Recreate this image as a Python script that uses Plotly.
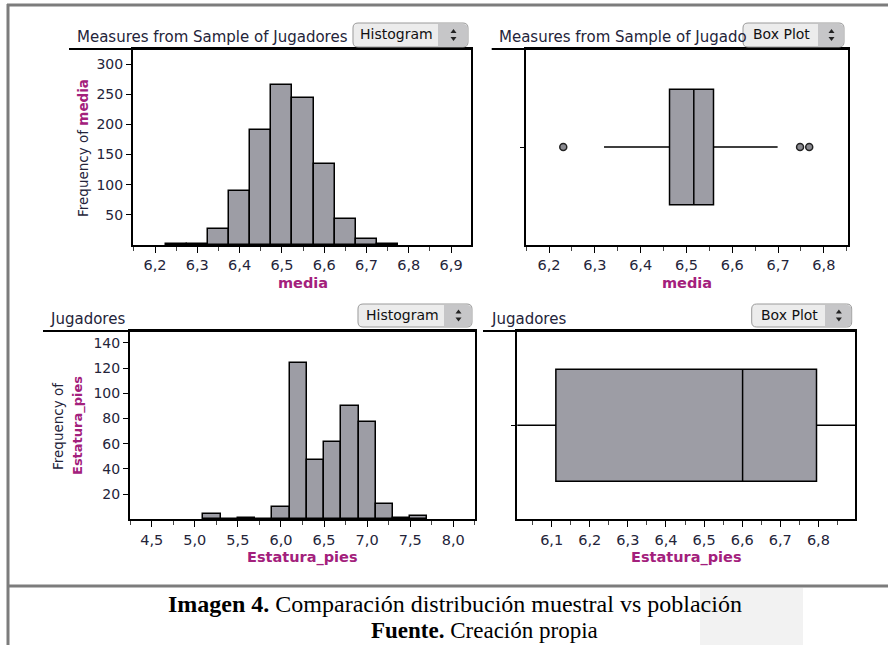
import plotly.graph_objects as go

# ---------------- data ----------------
media_edges = [6.225, 6.275, 6.325, 6.375, 6.425, 6.475, 6.525, 6.575, 6.625, 6.675, 6.725, 6.775]
media_counts = [1, 1, 27, 89, 191, 266, 244, 134, 43, 10, 2]

estatura_edges = [5.1, 5.3, 5.5, 5.7, 5.9, 6.1, 6.3, 6.5, 6.7, 6.9, 7.1, 7.3, 7.5, 7.7]
estatura_counts = [4, 0, 1, 0, 10, 124, 47, 61, 90, 77, 12, 1, 3]

media_box = dict(q1=6.463, median=6.516, q3=6.559, lowerfence=6.32, upperfence=6.699)
media_outliers = [6.231, 6.748, 6.768]

estatura_box = dict(q1=6.111, median=6.601, q3=6.795, lowerfence=5.2, upperfence=7.6)

media_xticks = [6.2, 6.3, 6.4, 6.5, 6.6, 6.7, 6.8, 6.9]
media_yticks = [50, 100, 150, 200, 250, 300]
media_box_xticks = [6.2, 6.3, 6.4, 6.5, 6.6, 6.7, 6.8]
estatura_xticks = [4.5, 5.0, 5.5, 6.0, 6.5, 7.0, 7.5, 8.0]
estatura_yticks = [20, 40, 60, 80, 100, 120, 140]
estatura_box_xticks = [6.1, 6.2, 6.3, 6.4, 6.5, 6.6, 6.7, 6.8]

# ---------------- styling ----------------
W, H = 888, 645
BAR = "#9d9da5"
TXT = "#24243a"
MAG = "#a3207c"
FONT = "DejaVu Sans, Verdana, sans-serif"
SERIF = "Liberation Serif, Times New Roman, serif"


def fx(x):
    return x / W


def fy(y):
    return 1 - y / H


def centers(edges):
    return [(a + b) / 2 for a, b in zip(edges[:-1], edges[1:])]


def widths(edges):
    return [b - a for a, b in zip(edges[:-1], edges[1:])]


fig = go.Figure()

fig.add_trace(go.Bar(x=centers(media_edges), y=media_counts, width=widths(media_edges),
                     marker=dict(color=BAR, line=dict(color="black", width=1.5)),
                     xaxis="x", yaxis="y", showlegend=False))
fig.add_trace(go.Box(y=[0], q1=[media_box["q1"]], median=[media_box["median"]], q3=[media_box["q3"]],
                     lowerfence=[media_box["lowerfence"]], upperfence=[media_box["upperfence"]],
                     orientation="h", width=1.18, whiskerwidth=0,
                     fillcolor=BAR, line=dict(color="black", width=1.5),
                     xaxis="x2", yaxis="y2", showlegend=False, hoverinfo="skip"))
fig.add_trace(go.Scatter(x=media_outliers, y=[0] * len(media_outliers), mode="markers",
                         marker=dict(size=7, color="#8a8a90", line=dict(color="#222", width=1.5)),
                         xaxis="x2", yaxis="y2", showlegend=False))
fig.add_trace(go.Bar(x=centers(estatura_edges), y=estatura_counts, width=widths(estatura_edges),
                     marker=dict(color=BAR, line=dict(color="black", width=1.5)),
                     xaxis="x3", yaxis="y3", showlegend=False))
fig.add_trace(go.Box(y=[0], q1=[estatura_box["q1"]], median=[estatura_box["median"]], q3=[estatura_box["q3"]],
                     lowerfence=[estatura_box["lowerfence"]], upperfence=[estatura_box["upperfence"]],
                     orientation="h", width=1.19, whiskerwidth=0,
                     fillcolor=BAR, line=dict(color="black", width=1.5),
                     xaxis="x4", yaxis="y4", showlegend=False, hoverinfo="skip"))

tickfont = dict(family=FONT, size=14.5, color=TXT)


def xax(domain, rng, tickvals, minor_dtick, anchor):
    return dict(domain=[fx(domain[0]), fx(domain[1])], range=rng, anchor=anchor,
                tickvals=tickvals, tickformat=".1f", ticks="outside", ticklen=6, tickwidth=1,
                tickcolor="black", tickfont=tickfont,
                minor=dict(dtick=minor_dtick, tick0=tickvals[0], ticks="outside", ticklen=4, tickcolor="#444"),
                showline=True, linecolor="black", linewidth=2, mirror=True,
                showgrid=False, zeroline=False, fixedrange=True)


def yax(domain, rng, tickvals, anchor, labels=True):
    d = dict(domain=[fy(domain[1]), fy(domain[0])], range=rng, anchor=anchor,
             tickvals=tickvals, ticks="outside", ticklen=5, tickwidth=1, tickcolor="black",
             tickfont=dict(family=FONT, size=14, color=TXT), showline=True, linecolor="black",
             linewidth=2, mirror=True, showgrid=False, zeroline=False, fixedrange=True)
    if not labels:
        d["showticklabels"] = False
        d["ticklen"] = 4
    return d


P1 = (133, 471, 49, 245)
P2 = (525.7, 847.7, 49, 245)
P3 = (130, 475, 331, 519.3)
P4 = (517.3, 855, 331, 519.3)

fig.update_layout(
    width=W, height=H, margin=dict(l=0, r=0, t=0, b=0),
    paper_bgcolor="white", plot_bgcolor="white",
    separators=", ", bargap=0,
    xaxis=xax(P1[:2], [6.148, 6.947], media_xticks, 0.05, "y"),
    yaxis=yax(P1[2:], [0, 325], media_yticks, "x"),
    xaxis2=xax(P2[:2], [6.149, 6.852], media_box_xticks, 0.05, "y2"),
    yaxis2=yax(P2[2:], [-1, 1], [0], "x2", labels=False),
    xaxis3=xax(P3[:2], [4.248, 8.252], estatura_xticks, 0.25, "y3"),
    yaxis3=yax(P3[2:], [0, 149.5], estatura_yticks, "x3"),
    xaxis4=xax(P4[:2], [6.0098, 6.896], estatura_box_xticks, 0.05, "y4"),
    yaxis4=yax(P4[2:], [-1, 1], [0], "x4", labels=False),
)

shapes = []
annotations = []


def hline(x0, x1, y, color="black", width=2):
    shapes.append(dict(type="line", xref="paper", yref="paper", x0=fx(x0), x1=fx(x1), y0=fy(y), y1=fy(y),
                       line=dict(color=color, width=width)))


def vline(x, y0, y1, color="black", width=2):
    shapes.append(dict(type="line", xref="paper", yref="paper", x0=fx(x), x1=fx(x), y0=fy(y0), y1=fy(y1),
                       line=dict(color=color, width=width)))


def text(x, y, s, size=15, color=TXT, anchor="left", angle=0, family=FONT, yanchor="middle"):
    annotations.append(dict(x=fx(x), y=fy(y), xref="paper", yref="paper", text=s, showarrow=False,
                            xanchor=anchor, yanchor=yanchor, textangle=angle,
                            font=dict(family=family, size=size, color=color)))


def button(x0, x1, y0, y1, xs, label):
    r = 5

    def P(x, y):
        return f"{fx(x):.5f},{fy(y):.5f}"
    path = (f"M {P(x0 + r, y0)} L {P(x1 - r, y0)} Q {P(x1, y0)} {P(x1, y0 + r)} "
            f"L {P(x1, y1 - r)} Q {P(x1, y1)} {P(x1 - r, y1)} L {P(x0 + r, y1)} "
            f"Q {P(x0, y1)} {P(x0, y1 - r)} L {P(x0, y0 + r)} Q {P(x0, y0)} {P(x0 + r, y0)} Z")
    shapes.append(dict(type="path", xref="paper", yref="paper", path=path,
                       fillcolor="#ececec", line=dict(color="#9a9a9a", width=1)))
    path2 = (f"M {P(xs, y0 + 1)} L {P(x1 - r, y0 + 1)} Q {P(x1 - 0.5, y0 + 1)} {P(x1 - 0.5, y0 + r)} "
             f"L {P(x1 - 0.5, y1 - r)} Q {P(x1 - 0.5, y1 - 0.5)} {P(x1 - r, y1 - 0.5)} L {P(xs, y1 - 0.5)} Z")
    shapes.append(dict(type="path", xref="paper", yref="paper", path=path2,
                       fillcolor="#c6c6c8", line=dict(width=0)))
    cx = (xs + x1) / 2 + 0.5
    cy = (y0 + y1) / 2
    up = f"M {P(cx - 3, cy - 2)} L {P(cx + 3, cy - 2)} L {P(cx, cy - 6)} Z"
    dn = f"M {P(cx - 3, cy + 2)} L {P(cx + 3, cy + 2)} L {P(cx, cy + 6)} Z"
    for p in (up, dn):
        shapes.append(dict(type="path", xref="paper", yref="paper", path=p,
                           fillcolor="#222", line=dict(width=0)))
    text((x0 + xs) / 2 + 1, cy - 1, label, size=14, color="#111", anchor="center")


# faint watermark block in caption area
shapes.append(dict(type="rect", xref="paper", yref="paper", x0=fx(700), x1=fx(803), y0=fy(645), y1=fy(588),
                   fillcolor="#f2f2f2", line=dict(width=0), layer="below"))

# outer frame
hline(7, 888, 5, color="#7c7c7c", width=3)
vline(8, 4, 645, color="#7c7c7c", width=3)
hline(7, 888, 586, color="#7c7c7c", width=3)

# title underlines
hline(69, P1[1] + 1, 49)
hline(491.7, P2[1] + 1, 49)
hline(43, P3[1] + 1, 331)
hline(483, P4[1] + 1, 331)

# panel titles
text(75, 37, "Measures from Sample of Jugadores")
text(497, 37, "Measures from Sample of Jugado")
text(48, 319, "Jugadores")
text(489, 319, "Jugadores")

# buttons
button(353, 468, 23, 47, 438, "Histogram")
button(743, 844, 23, 47, 818, "Box Plot")
button(358, 472, 304, 327, 444, "Histogram")
button(751.7, 851.7, 304, 327, 825, "Box Plot")

# axis titles
text(303, 283, "<b>media</b>", size=14.5, color=MAG, anchor="center")
text(687, 283, "<b>media</b>", size=14.5, color=MAG, anchor="center")
text(302, 557, "<b>Estatura_pies</b>", size=14.5, color=MAG, anchor="center")
text(686, 557, "<b>Estatura_pies</b>", size=14.5, color=MAG, anchor="center")
text(83, 148, f"Frequency of <span style='color:{MAG}'><b>media</b></span>", size=13.5, angle=-90, anchor="center")
text(58, 426, "Frequency of", size=13.5, angle=-90, anchor="center")
text(78, 426, "<b>Estatura_pies</b>", size=13, color=MAG, angle=-90, anchor="center")

# caption
text(455, 604, "<b>Imagen 4.</b> Comparación distribución muestral vs población", size=24, color="black",
     anchor="center", family=SERIF)
text(484, 630, "<b>Fuente.</b> Creación propia", size=23, color="black",
     anchor="center", family=SERIF)

fig.update_layout(shapes=shapes, annotations=annotations)

fig.write_html("out.html", config={"displayModeBar": False},
               post_script="document.body.style.margin='0px';document.body.style.overflow='hidden';")
